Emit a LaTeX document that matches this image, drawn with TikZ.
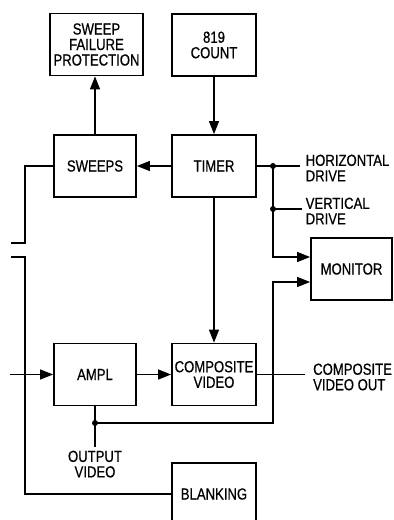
\documentclass[tikz,border=0pt]{standalone}
\usepackage{fontspec}
\setmainfont[FakeStretch=0.82,FakeBold=0.6]{Liberation Sans}
\usetikzlibrary{arrows.meta,positioning}

\begin{document}
\begin{tikzpicture}[x=1bp,y=-1bp,>={Triangle[length=13bp,width=10bp]},line width=1.4bp,
  font=\fontsize{16bp}{15.5bp}\selectfont,
  blk/.style={draw,line width=1.8bp,align=center,minimum width=84bp,minimum height=62bp,inner sep=2bp},
  lbl/.style={align=left,inner sep=0pt}]
\clip (0,0) rectangle (393,520);
\node[blk,minimum width=93bp] (sfp) at (96.5,44.5) {SWEEP\\FAILURE\\PROTECTION};
\node[blk] (count) at (214,45) {819\\COUNT};
\node[blk,minimum width=82bp] (sweeps) at (95,166) {SWEEPS};
\node[blk] (timer) at (214,166) {TIMER};
\node[blk,minimum width=81bp] (monitor) at (351.5,269) {MONITOR};
\node[blk,minimum width=82bp] (ampl) at (95,374.5) {AMPL};
\node[blk] (comp) at (214,374.5) {COMPOSITE\\VIDEO};
\node[blk] (blank) at (214,494) {BLANKING};

\coordinate (hj) at (273,166);
\coordinate (vj) at (273,209);
\coordinate (hd) at (300,166);
\coordinate (vd) at (302,209);
\coordinate (in) at (10,374.5);
\coordinate (cvo) at (305,374.5);
\coordinate (ov) at (95,423);
\coordinate (ovend) at (95,447);
\coordinate (mon1) at ([yshift=12bp]monitor.west);
\coordinate (mon2) at ([yshift=-13bp]monitor.west);
\coordinate (brkA) at (11,243);
\coordinate (brkB) at (11,257);

\draw[->] (sweeps.north) -- (sweeps.north |- sfp.south);
\draw[->] (timer.west) -- (sweeps.east);
\draw[->] (count.south) -- (timer.north);
\draw[->] (timer.south) -- (comp.north);
\draw[->] (ampl.east) -- (comp.west);
\draw[->] (in) -- (ampl.west);
\draw (comp.east) -- (cvo);
\draw (timer.east) -- (hd);
\draw (vj) -- (vd);
\draw[->] (hj) |- (mon1);
\draw (ampl.south) -- (ovend);
\draw[->] (ov) -| (hj |- mon2) -- (mon2);
\draw (sweeps.west) -| (25,243) -- (brkA);
\draw (brkB) -- (25,257) |- (blank.west);
\fill (hj) circle (3bp) (vj) circle (3bp) (ov) circle (3bp);

\node[lbl,anchor=west] (hdl) at (305,168) {HORIZONTAL\\DRIVE};
\node[lbl,anchor=west] (vdl) at (305,211) {VERTICAL\\DRIVE};
\node[lbl,anchor=west] (cvol) at (312.5,377) {COMPOSITE\\VIDEO OUT};
\node[lbl,align=center,below=3bp of ovend] (ovl) {OUTPUT\\VIDEO};
\end{tikzpicture}
\end{document}
